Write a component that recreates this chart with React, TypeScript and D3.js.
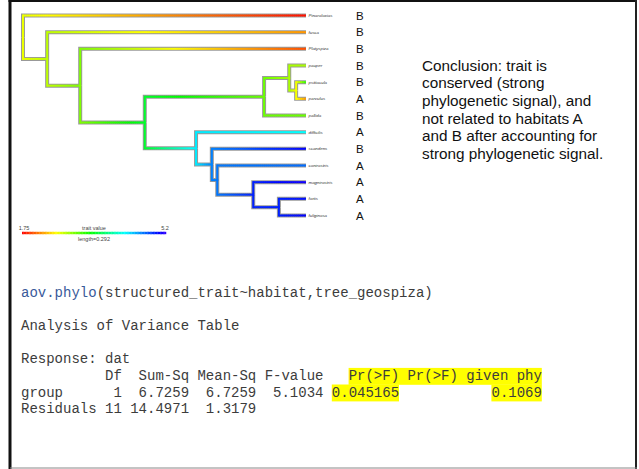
import React from 'react';
import * as d3 from 'd3';

// tips of the tree, top to bottom
const tipNames = ['Pinaroloxias', 'fusca', 'Platyspiza', 'pauper', 'psittacula', 'parvulus', 'pallida',
  'difficilis', 'scandens', 'conirostris', 'magnirostris', 'fortis', 'fuliginosa'];
const tipParents = ['root', 'n1', 'n2', 'n5', 'n6', 'n6', 'n4', 'n7', 'n8', 'n9', 'n10', 'n11', 'n11'];
const tipTraits = [1.8, 2.23, 2.0, 2.85, 3.26, 2.23, 3.05, 4.21, 5.04, 4.69, 5.1, 5.0, 5.04];
const tipHabitats = ['B', 'B', 'B', 'B', 'B', 'A', 'B', 'A', 'B', 'A', 'A', 'A', 'A'];

// internal nodes (depth from root in branch length units, reconstructed trait)
const nodeNames = ['root', 'n1', 'n2', 'n3', 'n4', 'n5', 'n6', 'n7', 'n8', 'n9', 'n10', 'n11'];
const nodeParents = ['', 'root', 'n1', 'n2', 'n3', 'n4', 'n5', 'n3', 'n7', 'n8', 'n9', 'n10'];
const nodeDepths = [0, 0.049, 0.116, 0.247, 0.489, 0.54, 0.554, 0.351, 0.383, 0.394, 0.467, 0.519];
const nodeTraits = [2.64, 2.78, 2.98, 3.53, 3.05, 2.85, 2.6, 4.28, 4.62, 4.65, 4.93, 4.93];
const treeHeight = 0.574;

const traitRange = [1.75, 5.2];
const legendLength = 0.292;

const conclusionLines = [
  'Conclusion: trait is',
  'conserved (strong',
  'phylogenetic signal), and',
  'not related to habitats A',
  'and B after accounting for',
  'strong phylogenetic signal.',
];

const consoleCall = ['aov.phylo', '(structured_trait~habitat,tree_geospiza)'];
const consoleLines = [
  '',
  '',
  'Analysis of Variance Table',
  '',
  'Response: dat',
  '          Df  Sum-Sq Mean-Sq F-value   Pr(>F) Pr(>F) given phy',
  'group      1  6.7259  6.7259  5.1034 0.045165           0.1069',
  'Residuals 11 14.4971  1.3179',
];
// [line, first column, last column + 1]
const highlights = [
  [5, 39, 62],
  [6, 37, 45],
  [6, 56, 62],
];

type Rec = { id: string; parent: string; depth: number; trait: number; y: number; tip: boolean };

const W = 639;
const H = 469;

const App = () => {
  const x = d3.scaleLinear().domain([0, treeHeight]).range([23, 306]);
  const y = d3.scalePoint<string>().domain(tipNames).range([15.5, 215.5]);
  const hue = d3.scaleLinear().domain(traitRange).range([0, 252]).clamp(true);
  const traitColor = (v: number) => d3.hsl(hue(v), 1, 0.5).toString();

  const recs: Rec[] = [
    ...nodeNames.map((id, i) => ({ id, parent: nodeParents[i], depth: nodeDepths[i], trait: nodeTraits[i], y: 0, tip: false })),
    ...tipNames.map((id, i) => ({ id, parent: tipParents[i], depth: treeHeight, trait: tipTraits[i], y: y(id) as number, tip: true })),
  ];
  const byId = new Map(recs.map(r => [r.id, r]));
  const setY = (r: Rec): number => {
    if (r.tip) return r.y;
    const kids = recs.filter(k => k.parent === r.id);
    r.y = d3.mean(kids.map(setY)) as number;
    return r.y;
  };
  setY(byId.get('root')!);
  const edges = recs.filter(r => r.parent !== '').map(r => ({ child: r, parent: byId.get(r.parent)! }));

  // horizontal edges split into short pieces so the colour runs along the branch
  const pieces: { x0: number; x1: number; yy: number; c: string; k: string }[] = [];
  edges.forEach(({ child, parent }) => {
    const xa = x(parent.depth);
    const xb = x(child.depth);
    const n = Math.max(1, Math.ceil((xb - xa) / 2));
    const step = (xb - xa) / n;
    for (let i = 0; i < n; i++) {
      const v = parent.trait + (child.trait - parent.trait) * (i + 0.5) / n;
      pieces.push({ x0: xa + i * step, x1: Math.min(xb, xa + (i + 1) * step + 0.4), yy: child.y, c: traitColor(v), k: child.id + i });
    }
  });

  // legend bar
  const legX0 = 22;
  const legX1 = legX0 + x(legendLength) - x(0);
  const legendSteps = d3.range(0, 100);
  const legScale = d3.scaleLinear().domain([0, 100]).range([legX0, legX1]);
  const legVal = d3.scaleLinear().domain([0, 100]).range(traitRange);

  const charW = 8.4;
  const conY = 297;
  const lineH = 16.6;
  const textX = 21;

  return (
    <svg width={W} height={H} style={{ position: 'absolute', left: 0, top: 0, background: '#fff' }}>
      {/* slide frame */}
      <line x1={10} x2={10} y1={0} y2={H} stroke="#111" strokeWidth={3} />
      <line x1={8.5} x2={637} y1={1} y2={1} stroke="#111" strokeWidth={2} />
      <line x1={636} x2={636} y1={0} y2={H} stroke="#222" strokeWidth={2} />
      <line x1={10} x2={637} y1={468} y2={468} stroke="#888" strokeWidth={1} />

      {/* tree outline */}
      <g fill="none" stroke="#999" strokeWidth={4} strokeLinejoin="miter">
        {edges.map(({ child, parent }) => (
          <path key={child.id} d={`M${x(parent.depth)},${parent.y}V${child.y}H${x(child.depth)}`} />
        ))}
      </g>
      {/* coloured branches */}
      <g fill="none" strokeWidth={2}>
        {edges.map(({ child, parent }) => (
          <line key={child.id} x1={x(parent.depth)} x2={x(parent.depth)} y1={parent.y} y2={child.y}
            stroke={traitColor(parent.trait)} strokeLinecap="square" />
        ))}
        {pieces.map(p => (
          <line key={p.k} x1={p.x0} x2={p.x1} y1={p.yy} y2={p.yy} stroke={p.c} />
        ))}
      </g>

      {/* tip labels and habitats */}
      <g fontFamily="Liberation Sans, Arial, sans-serif">
        {tipNames.map(name => (
          <text key={name} x={308.5} y={(y(name) as number) + 1.6} fontSize={4.4} fontStyle="italic" fill="#333">{name}</text>
        ))}
        {tipNames.map((name, i) => (
          <text key={name + 'h'} x={356} y={(y(name) as number) + 4.2} fontSize={11.5} fill="#111">{tipHabitats[i]}</text>
        ))}
      </g>

      {/* legend */}
      <g>
        {legendSteps.map(i => (
          <line key={i} x1={legScale(i)} x2={legScale(i + 1) + 0.3} y1={233} y2={233} stroke={traitColor(legVal(i + 0.5))} strokeWidth={2.4} />
        ))}
        <g fontFamily="Liberation Sans, Arial, sans-serif" fontSize={5.5} fill="#444" textAnchor="middle">
          <text x={legX0 + 2} y={229.5}>{traitRange[0]}</text>
          <text x={legX1 - 1} y={229.5}>{traitRange[1]}</text>
          <text x={(legX0 + legX1) / 2} y={229.5}>trait value</text>
          <text x={(legX0 + legX1) / 2} y={240.5}>{`length=${legendLength}`}</text>
        </g>
      </g>

      {/* conclusion */}
      <g fontFamily="Liberation Sans, Arial, sans-serif" fontSize={15.3} fill="#111">
        {conclusionLines.map((t, i) => (
          <text key={i} x={422} y={70.5 + i * 17.7}>{t}</text>
        ))}
      </g>

      {/* R console output */}
      <g>
        {highlights.map(([ln, c0, c1], i) => (
          <rect key={i} x={textX + c0 * charW} y={conY + (ln - 1) * lineH + 4.5} width={(c1 - c0) * charW} height={lineH + 0.3} fill="#ffff00" />
        ))}
      </g>
      <g fontFamily="Liberation Mono, Courier New, monospace" fontSize={14} fill="#3c3c3c">
        <text x={textX} y={conY} xmlSpace="preserve" style={{ whiteSpace: 'pre' }}>
          <tspan fill="#3a5a9a">{consoleCall[0]}</tspan>
          <tspan>{consoleCall[1]}</tspan>
        </text>
        {consoleLines.map((t, i) => t ? (
          <text key={i} x={textX} y={conY + i * lineH} xmlSpace="preserve" style={{ whiteSpace: 'pre' }}>{t}</text>
        ) : null)}
      </g>
    </svg>
  );
};

export default App;
